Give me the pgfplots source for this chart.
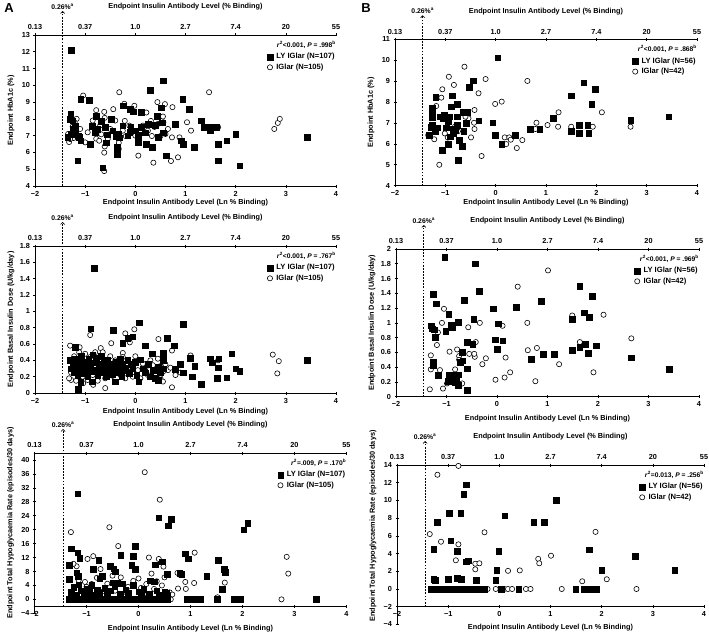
\documentclass[border=0pt]{standalone}
\usepackage{fontspec}
\setmainfont{Liberation Sans}
\usepackage{pgfplots}
\pgfplotsset{compat=1.18}
\usetikzlibrary{arrows.meta}

\newcommand{\tfont}{\fontsize{7.3}{8}\selectfont\bfseries}
\newcommand{\lfont}{\fontsize{7.3}{8}\selectfont\bfseries}

\pgfplotsset{
  base/.style={scale only axis, xmin=-2, xmax=4, clip=false,
    axis line style={black, line width=0.6pt},
    tick style={black, line width=0.6pt},
    tick align=outside, major tick length=3pt,
    ticklabel style={font=\tfont},
    xtick={-2,-1,0,1,2,3,4}},
  mainax/.style={base, axis x line=bottom, axis y line=left,
    axis line style={-},
    xticklabels={−2,−1,0,1,2,3,4},
    xlabel={Endpoint Insulin Antibody Level (Ln \% Binding)},
    legend style={at={(1,1)}, anchor=north east, yshift=-17pt, draw=none, fill=none,
      font=\fontsize{7.6}{8.4}\selectfont\bfseries, inner sep=0pt, row sep=1pt,
      nodes={inner sep=1.2pt}},
    legend cell align=left},
  topax/.style={base, axis x line=top, axis y line=none, axis line style={-},
    ymin=0, ymax=1,
    xticklabels={0.13,0.37,1.0,2.7,7.4,20,55},
    xlabel={Endpoint Insulin Antibody Level (\% Binding)},
    every axis x label/.style={at={(axis description cs:0.5,1)}, anchor=center, yshift=28pt, font=\lfont}},
  xlab/.style={every axis x label/.style={at={(axis description cs:0.5,0)}, anchor=center, yshift=#1, font=\lfont}},
  ylab/.style={every axis y label/.style={at={(axis description cs:0,#1)}, xshift=-24pt, rotate=90, anchor=center, font=\lfont}},
  ly/.style={only marks, mark=square*, mark size=2.8pt, mark options={fill=black, draw=black, line width=0.3pt}},
  ig/.style={only marks, mark=*, mark size=2.6pt, mark options={fill=white, draw=black, line width=0.6pt}},
  legend image code/.code={\draw[#1] plot coordinates {(0pt,0pt)}; \path (-3pt,0pt) (5pt,0pt);},
}
\tikzset{
  dashline/.style={black, line width=0.6pt, dash pattern=on 1.8pt off 1.3pt, -{Straight Barb[length=2pt, width=4pt]}},
  cutlab/.style={anchor=south, inner sep=1pt, font=\fontsize{6.8}{7}\selectfont\bfseries},
  rsq/.style={anchor=north east, yshift=-6pt, inner sep=0pt, font=\fontsize{6.7}{7}\selectfont\bfseries}
}

\begin{document}
\begin{tikzpicture}
\useasboundingbox (0,0) rectangle (709pt,-634pt);
\node[font=\fontsize{13}{13}\selectfont\bfseries] at (9pt,-8pt) {A};
\node[font=\fontsize{13}{13}\selectfont\bfseries] at (366pt,-8pt) {B};

% ---------------- A1: HbA1c ----------------
\begin{axis}[topax, at={(35pt,-186pt)}, anchor=south west, width=301pt, height=151pt]
\end{axis}
\begin{axis}[mainax, xlab=-17pt, ylab=0.5, at={(35pt,-186pt)}, anchor=south west, width=301pt, height=151pt,
  ymin=4, ymax=13, ytick={4,5,6,7,8,9,10,11,12,13}, yticklabels={4,5,6,7,8,9,10,11,12,13},
  ylabel={Endpoint HbA1c (\%)}]
\addlegendimage{ly}\addlegendentry{LY IGlar (N=107)}
\addlegendimage{ig}\addlegendentry{IGlar (N=105)}
\addplot[ig, forget plot] coordinates {(1.47,9.59) (-0.32,9.59) (-1.04,9.39) (0.44,9.00) (0.59,8.88) (0.22,8.38) (0.74,8.70) (-0.22,8.90) (-0.02,8.78) (-0.44,8.58) (-0.78,8.52) (-0.62,8.42) (-1.17,8.00) (-0.61,8.06) (0.55,8.14) (-0.21,7.88) (0.31,7.88) (-0.70,7.62) (1.03,7.80) (-0.12,7.60) (0.38,7.52) (0.56,7.80) (1.65,7.50) (1.11,7.30) (2.77,7.40) (2.84,7.76) (2.88,8.00) (-1.21,7.78) (-1.25,7.54) (-1.34,7.10) (-1.32,6.62) (-1.23,6.86) (-0.78,6.82) (-0.68,7.08) (-0.72,6.70) (-0.61,6.36) (-0.62,5.99) (-0.33,6.57) (-0.19,6.97) (0.33,6.98) (0.50,6.98) (0.73,6.90) (0.88,6.90) (0.06,5.81) (0.36,5.39) (0.71,5.49) (0.85,5.71) (-0.33,6.21) (-0.62,4.89) (-1.30,6.80) (-1.10,7.40) (-0.95,7.20) (-0.50,7.40) (-0.25,7.30) (0.15,7.60) (0.45,7.70) (0.60,7.10) (-0.85,7.90) (-0.40,7.90) (0.00,7.00) (-1.00,6.60) (0.25,7.30) (0.65,7.40) (-0.55,6.80)};
\addplot[ly, forget plot] coordinates {(-1.28,12.08) (0.55,10.29) (0.30,9.71) (-1.09,9.18) (-0.92,9.10) (0.94,9.18) (-0.24,8.78) (0.52,8.66) (1.07,8.58) (-0.10,8.58) (0.12,8.40) (-0.04,8.44) (-1.29,8.30) (-0.78,8.18) (0.43,8.18) (-0.48,7.98) (-1.31,7.98) (-1.25,7.90) (-0.68,7.88) (0.54,7.78) (0.79,7.70) (1.31,7.90) (-0.86,7.58) (-0.76,7.40) (-0.09,7.50) (0.12,7.50) (0.40,7.62) (1.37,7.50) (1.51,7.50) (1.61,7.50) (1.49,7.30) (-1.25,7.40) (-1.19,7.22) (-1.12,6.92) (-1.35,6.90) (-1.14,7.00) (-1.09,6.70) (-0.38,6.98) (-0.32,6.88) (-0.34,7.08) (-0.11,7.20) (0.06,7.04) (0.20,7.18) (0.06,6.60) (0.21,6.48) (0.34,6.30) (0.91,6.70) (0.95,6.48) (0.56,7.18) (2.00,7.10) (1.82,6.70) (1.65,6.48) (-0.90,6.48) (-0.58,6.58) (-0.56,7.06) (-0.36,6.30) (-0.36,5.90) (0.61,5.80) (1.17,6.30) (-1.15,5.51) (1.65,5.51) (-0.65,5.09) (2.08,5.21) (3.42,6.90) (-1.20,7.60) (-1.28,7.10) (-0.80,7.20) (-0.45,7.30) (0.00,7.30) (0.25,7.70) (-0.15,7.00) (0.45,6.90) (-0.60,7.50) (-0.25,7.60)};
\draw[dashline] (axis cs:-1.45,4) -- ([yshift=24pt]axis cs:-1.45,13) node[cutlab] {0.26\%\textsuperscript{a}};
\node[rsq] at (rel axis cs:1,1) {\textit{r}\textsuperscript{2}<0.001, \textit{P} = .998\textsuperscript{b}};
\end{axis}

% ---------------- B1: HbA1c ----------------
\begin{axis}[topax, at={(395pt,-185.7pt)}, anchor=south west, width=302pt, height=146.4pt]
\end{axis}
\begin{axis}[mainax, xlab=-17pt, ylab=0.5, at={(395pt,-185.7pt)}, anchor=south west, width=302pt, height=146.4pt,
  ymin=4, ymax=11, ytick={4,5,6,7,8,9,10,11}, yticklabels={4,5,6,7,8,9,10,11},
  ylabel={Endpoint HbA1c (\%)}]
\addlegendimage{ly}\addlegendentry{LY IGlar (N=56)}
\addlegendimage{ig}\addlegendentry{IGlar (N=42)}
\addplot[ig, forget plot] coordinates {(-0.62,9.69) (-0.93,9.21) (-0.20,9.10) (0.63,9.01) (-0.83,8.82) (-1.06,8.61) (-1.08,8.21) (-0.34,8.42) (0.12,8.02) (-0.01,7.91) (-1.18,7.81) (-0.42,7.62) (1.25,7.51) (2.11,7.51) (-0.54,7.22) (-0.43,7.01) (-0.42,6.71) (-0.86,6.71) (-1.01,6.50) (-1.34,6.42) (-1.22,6.22) (-0.49,6.31) (0.18,6.31) (0.27,6.31) (0.21,5.99) (0.42,5.80) (0.53,6.18) (-0.28,5.42) (-1.12,5.00) (0.81,7.01) (1.03,6.90) (1.24,6.82) (1.50,6.82) (1.93,6.82) (2.68,6.82) (0.79,6.71) (-0.81,6.82) (-0.75,6.60) (-0.95,6.30) (-1.25,6.80) (-0.60,7.30) (0.30,6.20)};
\addplot[ly, forget plot] coordinates {(0.04,10.12) (-0.45,9.02) (-0.53,8.70) (1.75,8.93) (1.98,8.61) (1.50,8.30) (1.91,7.91) (-0.87,8.30) (-1.19,8.22) (-1.26,7.70) (-1.26,7.51) (-1.26,7.27) (-1.26,6.90) (-0.76,7.91) (-0.89,7.78) (-0.66,7.51) (-0.56,7.51) (-0.34,7.11) (-1.02,7.38) (-0.93,7.30) (-0.76,7.30) (-1.05,7.22) (1.14,7.22) (-0.77,6.90) (-0.58,6.98) (-1.15,6.77) (-0.98,6.77) (-0.81,6.63) (-0.64,6.61) (-0.06,7.01) (-0.01,6.42) (0.12,5.99) (0.39,6.42) (0.69,6.71) (0.87,6.71) (-0.84,6.50) (-1.32,6.42) (-0.91,6.34) (-0.72,6.18) (-0.95,5.99) (-0.67,5.90) (-1.06,5.70) (-0.74,5.21) (1.50,6.61) (1.66,6.50) (1.83,6.90) (1.66,6.90) (1.85,6.50) (2.68,7.12) (3.44,7.30) (-1.28,6.80) (-1.20,6.60) (-1.10,7.30) (-0.95,7.10) (-0.85,6.70) (-0.60,7.00)};
\draw[dashline] (axis cs:-1.45,4) -- ([yshift=24pt]axis cs:-1.45,11) node[cutlab] {0.26\%\textsuperscript{a}};
\node[rsq] at (rel axis cs:1,1) {\textit{r}\textsuperscript{2}<0.001, \textit{P} = .868\textsuperscript{b}};
\end{axis}

% ---------------- A2: basal insulin dose ----------------
\begin{axis}[topax, at={(35pt,-393pt)}, anchor=south west, width=301pt, height=147pt]
\end{axis}
\begin{axis}[mainax, xlab=-18.7pt, ylab=0.5, at={(35pt,-393pt)}, anchor=south west, width=301pt, height=147pt,
  ymin=0, ymax=1.8, ytick={0,0.2,0.4,0.6,0.8,1,1.2,1.4,1.6,1.8}, yticklabels={0,0.2,0.4,0.6,0.8,1,1.2,1.4,1.6,1.8},
  ylabel={Endpoint Basal Insulin Dose (U/kg/day)}]
\addlegendimage{ly}\addlegendentry{LY IGlar (N=107)}
\addlegendimage{ig}\addlegendentry{IGlar (N=105)}
\addplot[ig, forget plot] coordinates {(-0.90,0.71) (-0.02,0.78) (-0.20,0.73) (-0.48,0.61) (-0.11,0.62) (0.46,0.66) (0.73,0.52) (1.10,0.46) (1.65,0.40) (2.74,0.47) (2.86,0.39) (2.83,0.24) (0.73,0.07) (-0.60,0.06) (-1.30,0.58) (-1.11,0.56) (-0.69,0.55) (-0.25,0.49) (-1.28,0.16) (-1.04,0.12) (-0.84,0.10) (-1.32,0.18) (-1.28,0.25) (-1.22,0.45) (-1.18,0.15) (-1.12,0.50) (-1.05,0.20) (-1.00,0.48) (-0.95,0.16) (-0.90,0.44) (-0.85,0.22) (-0.80,0.50) (-0.75,0.15) (-0.70,0.40) (-0.65,0.50) (-0.60,0.18) (-0.55,0.26) (-0.50,0.45) (-0.45,0.21) (-0.40,0.40) (-0.35,0.34) (-0.30,0.22) (-0.25,0.44) (-0.20,0.18) (-0.15,0.30) (-0.10,0.26) (-0.05,0.20) (0.00,0.45) (0.05,0.28) (0.10,0.18) (0.15,0.36) (0.20,0.30) (0.25,0.22) (0.30,0.40) (0.35,0.34) (0.40,0.24) (0.45,0.42) (0.50,0.18) (0.55,0.26) (0.60,0.35) (0.65,0.28) (0.70,0.31) (0.80,0.22) (0.90,0.25) (0.55,0.14) (0.50,0.33)};
\addplot[ly, forget plot] coordinates {(-0.82,1.53) (-0.89,0.79) (-0.44,0.77) (0.08,0.86) (0.95,0.84) (-0.05,0.69) (-0.15,0.67) (-0.25,0.61) (0.20,0.58) (0.63,0.67) (0.77,0.58) (-1.20,0.56) (0.33,0.48) (0.56,0.49) (0.56,0.40) (1.09,0.43) (1.18,0.33) (0.89,0.35) (0.95,0.25) (0.79,0.29) (1.13,0.20) (1.31,0.11) (1.49,0.42) (1.53,0.37) (1.66,0.42) (1.65,0.31) (1.63,0.18) (1.82,0.19) (1.92,0.48) (2.00,0.30) (2.08,0.27) (3.42,0.40) (-0.86,0.14) (-1.14,0.05) (-1.09,0.13) (-0.40,0.14) (0.07,0.14) (0.45,0.16) (-1.30,0.40) (-1.28,0.30) (-1.25,0.35) (-1.22,0.25) (-1.20,0.42) (-1.18,0.32) (-1.15,0.22) (-1.12,0.38) (-1.10,0.28) (-1.08,0.45) (-1.05,0.33) (-1.02,0.24) (-1.00,0.38) (-0.98,0.30) (-0.95,0.20) (-0.93,0.42) (-0.90,0.34) (-0.88,0.26) (-0.85,0.47) (-0.82,0.37) (-0.80,0.28) (-0.78,0.43) (-0.75,0.22) (-0.72,0.35) (-0.70,0.30) (-0.68,0.45) (-0.65,0.25) (-0.62,0.38) (-0.60,0.32) (-0.58,0.20) (-0.55,0.40) (-0.52,0.28) (-0.50,0.35) (-0.45,0.23) (-0.42,0.30) (-0.38,0.38) (-0.35,0.25) (-0.32,0.33) (-0.30,0.42) (-0.27,0.20) (-0.25,0.36) (-0.22,0.28) (-0.20,0.31) (-0.15,0.40) (-0.12,0.24) (-0.08,0.35) (-0.05,0.30) (0.00,0.38) (0.03,0.22) (0.10,0.41) (0.15,0.30) (0.20,0.25) (0.25,0.35) (0.30,0.20) (0.35,0.28) (0.40,0.18) (0.45,0.32) (0.50,0.25) (0.55,0.30)};
\draw[dashline] (axis cs:-1.45,0) -- ([yshift=24pt]axis cs:-1.45,1.8) node[cutlab] {0.26\%\textsuperscript{a}};
\node[rsq] at (rel axis cs:1,1) {\textit{r}\textsuperscript{2}<0.001, \textit{P} = .767\textsuperscript{b}};
\end{axis}

% ---------------- B2: basal insulin dose ----------------
\begin{axis}[topax, at={(396pt,-396.7pt)}, anchor=south west, width=303pt, height=147.7pt]
\end{axis}
\begin{axis}[mainax, xlab=-22pt, ylab=0.5, at={(396pt,-396.7pt)}, anchor=south west, width=303pt, height=147.7pt,
  ymin=0, ymax=2, ytick={0,0.2,0.4,0.6,0.8,1,1.2,1.4,1.6,1.8,2}, yticklabels={0,0.2,0.4,0.6,0.8,1,1.2,1.4,1.6,1.8,2},
  ylabel={Endpoint Basal Insulin Dose (U/kg/day)}]
\addlegendimage{ly}\addlegendentry{LY IGlar (N=56)}
\addlegendimage{ig}\addlegendentry{IGlar (N=42)}
\addplot[ig, forget plot] coordinates {(1.01,1.71) (0.41,1.49) (-1.05,1.19) (-1.09,1.00) (-0.57,0.94) (-0.34,1.00) (0.11,0.96) (0.60,1.00) (1.49,1.10) (2.11,1.11) (2.66,0.79) (1.64,0.74) (-1.17,0.87) (-1.19,0.70) (-0.42,0.74) (-0.94,0.61) (-0.79,0.64) (-0.75,0.55) (-0.55,0.58) (-0.44,0.54) (-0.75,0.50) (-1.31,0.56) (-0.29,0.44) (-0.22,0.52) (0.17,0.53) (0.61,0.63) (0.79,0.66) (1.23,0.44) (-1.31,0.37) (-1.13,0.36) (-0.83,0.37) (-0.03,0.23) (0.15,0.26) (0.26,0.33) (0.76,0.21) (1.91,0.33) (-1.33,0.10) (-1.07,0.11) (-0.99,0.18) (-0.69,0.18) (-0.45,0.58) (-0.88,0.28)};
\addplot[ly, forget plot] coordinates {(-1.04,1.89) (-0.43,1.80) (-1.26,1.39) (-0.35,1.43) (-1.20,1.26) (-0.65,1.31) (1.64,1.50) (1.89,1.36) (0.87,1.29) (0.38,1.21) (-0.08,1.19) (-0.96,1.12) (-1.30,0.96) (-1.25,0.91) (-1.22,0.81) (-1.02,0.89) (-0.91,0.97) (-0.89,0.94) (-0.77,1.01) (-0.46,1.05) (0.02,0.99) (1.73,1.14) (1.83,1.08) (1.49,1.05) (-0.59,0.74) (-0.69,0.60) (-0.48,0.71) (-0.04,0.77) (0.11,0.76) (0.00,0.64) (-0.59,0.38) (-0.73,0.47) (-0.68,0.49) (-1.27,0.47) (-1.26,0.42) (-1.16,0.29) (-0.95,0.30) (-0.85,0.30) (-0.77,0.30) (-0.81,0.24) (-0.97,0.21) (-0.77,0.16) (-0.59,0.09) (0.91,0.58) (0.68,0.51) (1.49,0.63) (1.64,0.67) (1.74,0.71) (1.96,0.69) (1.81,0.59) (1.13,0.58) (2.66,0.53) (3.41,0.37) (-0.80,0.28) (-1.28,0.92) (-0.83,0.20)};
\draw[dashline] (axis cs:-1.45,0) -- ([yshift=24pt]axis cs:-1.45,2) node[cutlab] {0.26\%\textsuperscript{a}};
\node[rsq] at (rel axis cs:1,1) {\textit{r}\textsuperscript{2}<0.001, \textit{P} = .969\textsuperscript{b}};
\end{axis}

% ---------------- A3: hypoglycaemia ----------------
\begin{axis}[topax, at={(34.5pt,-613.3pt)}, anchor=south west, width=312pt, height=160.3pt]
\end{axis}
\begin{axis}[mainax, xlab=-15pt, ylab=0.563, axis x line shift=-7pt, at={(34.5pt,-613.3pt)}, anchor=south west, width=312pt, height=160.3pt,
  ymin=-4, ymax=42, ytick={-4,0,4,8,12,16,20,24,28,32,36,40}, yticklabels={−4,0,4,8,12,16,20,24,28,32,36,40},
  ylabel={Endpoint Total Hypoglycaemia Rate (episodes/30 days)}]
\addlegendimage{ly}\addlegendentry{LY IGlar (N=107)}
\addlegendimage{ig}\addlegendentry{IGlar (N=105)}
\addplot[ig, forget plot] coordinates {(0.12,36.5) (0.41,28.6) (-1.30,19.3) (-0.56,20.7) (-0.39,15.3) (1.08,13.4) (0.20,12.0) (0.39,11.6) (0.48,9.4) (-0.98,11.6) (-0.87,12.4) (-1.19,9.5) (-0.73,8.7) (-0.34,6.3) (0.75,7.6) (0.80,7.0) (0.76,3.1) (0.91,3.0) (1.07,4.7) (1.66,4.8) (1.52,0.6) (2.85,12.2) (2.88,7.4) (2.75,0) (-1.03,5.0) (-1.00,3.6) (-1.25,10.2) (-1.15,5.5) (-0.90,4.4) (-0.80,6.2) (-0.60,4.5) (-0.50,6.8) (-0.45,2.5) (-0.20,3.6) (-0.10,5.3) (0.00,6.0) (0.05,3.3) (0.15,4.4) (0.25,7.4) (0.30,3.0) (0.35,5.2) (0.45,4.0) (0.50,6.3) (0.60,2.0) (0.65,1.4) (0.90,5.0) (-1.10,1.2) (-0.70,2.2) (-0.30,1.0) (0.10,1.5) (0.40,0.8) (-1.30,0) (-1.10,0) (-0.90,0) (-0.70,0) (-0.50,0) (-0.30,0) (-0.10,0) (0.15,0) (0.30,0) (0.62,0)};
\addplot[ly, forget plot] coordinates {(-1.17,30.3) (0.39,23.4) (0.63,23.0) (0.57,21.1) (2.02,20.0) (2.10,21.9) (-1.30,14.6) (-1.17,13.4) (-1.13,11.9) (-0.06,15.3) (-0.34,12.7) (-0.10,12.4) (-0.77,11.2) (0.90,13.1) (0.96,11.7) (-1.33,9.8) (-0.87,8.6) (-1.19,7.7) (-1.16,6.6) (-0.55,9.6) (-0.48,8.8) (-0.45,8.0) (-0.13,9.8) (-0.06,8.7) (0.32,10.0) (0.45,10.8) (0.55,7.2) (0.79,7.6) (0.83,7.2) (1.31,6.7) (1.53,11.2) (1.65,8.7) (1.67,7.8) (1.61,2.9) (-1.33,5.8) (-0.70,6.6) (-0.75,5.9) (-0.40,4.6) (-0.46,3.7) (-0.32,4.5) (0.22,5.4) (0.30,5.1) (0.54,1.7) (0.55,1.0) (-1.30,2.0) (-1.25,3.5) (-1.20,1.2) (-1.15,4.2) (-1.10,2.5) (-1.05,1.5) (-1.00,3.0) (-0.95,2.0) (-0.90,4.0) (-0.85,1.2) (-0.80,2.8) (-0.75,1.8) (-0.65,3.2) (-0.60,1.5) (-0.55,2.5) (-0.50,4.8) (-0.35,1.5) (-0.25,2.8) (-0.20,1.8) (-0.10,4.0) (0.00,2.2) (0.05,1.3) (0.10,3.0) (0.20,1.6) (0.35,2.5) (0.40,1.2) (0.50,2.0) (-1.33,0) (-1.26,0) (-1.19,0) (-1.12,0) (-1.05,0) (-0.98,0) (-0.91,0) (-0.84,0) (-0.77,0) (-0.70,0) (-0.63,0) (-0.56,0) (-0.49,0) (-0.42,0) (-0.35,0) (-0.28,0) (-0.21,0) (-0.14,0) (-0.07,0) (0.00,0) (0.07,0) (0.21,0) (0.28,0) (0.35,0) (0.42,0) (0.49,0) (0.56,0) (0.94,0) (1.06,0) (1.13,0) (1.19,0) (1.51,0) (1.83,0) (1.90,0) (1.96,0) (3.42,0)};
\draw[dashline] (axis cs:-1.45,-2) -- ([yshift=24pt]axis cs:-1.45,42) node[cutlab] {0.26\%\textsuperscript{a}};
\node[rsq] at (rel axis cs:1,1) {\textit{r}\textsuperscript{2}=.009, \textit{P} = .170\textsuperscript{b}};
\end{axis}

% ---------------- B3: hypoglycaemia ----------------
\begin{axis}[topax, at={(397pt,-624.4pt)}, anchor=south west, width=307pt, height=159.4pt]
\end{axis}
\begin{axis}[mainax, xlab=-3pt, ylab=0.617, axis x line shift=-17.7pt, at={(397pt,-624.4pt)}, anchor=south west, width=307pt, height=159.4pt,
  ymin=-4, ymax=14, ytick={-4,-2,0,2,4,6,8,10,12,14}, yticklabels={−4,−2,0,2,4,6,8,10,12,14},
  ylabel={Endpoint Total Hypoglycaemia Rate (episodes/30 days)}]
\addlegendimage{ly}\addlegendentry{LY IGlar (N=56)}
\addlegendimage{ig}\addlegendentry{IGlar (N=42)}
\addplot[ig, forget plot] coordinates {(-0.80,13.9) (-1.21,12.9) (-1.36,6.2) (-1.14,5.34) (-0.80,5.04) (-0.29,6.4) (-0.85,3.24) (-0.47,2.85) (-0.39,2.9) (-0.47,2.22) (0.17,2.05) (0.40,2.1) (0.76,3.4) (0.78,2.9) (1.01,3.76) (1.62,0.87) (2.10,1.1) (1.88,6.45) (2.68,0) (-0.65,0) (-0.23,0) (-0.07,0) (0.10,0) (0.17,0) (0.25,0) (0.52,0) (0.61,0) (1.22,0)};
\addplot[ly, forget plot] coordinates {(-0.65,11.8) (-0.70,10.7) (-0.98,8.54) (-0.76,8.54) (-1.21,7.52) (0.10,8.27) (0.67,7.52) (0.87,7.52) (1.11,10.0) (-0.95,5.45) (-1.28,4.48) (-0.83,4.29) (-0.65,3.08) (-0.61,3.2) (-0.01,4.29) (-0.05,2.1) (-1.28,1.1) (-1.25,1.0) (-1.00,1.1) (-0.83,1.2) (-0.75,1.1) (-0.45,1.0) (-0.07,1.0) (1.75,4.45) (2.00,2.1) (2.66,3.74) (3.43,2.11) (-1.33,0) (-1.28,0) (-1.23,0) (-1.18,0) (-1.13,0) (-1.08,0) (-1.03,0) (-0.98,0) (-0.93,0) (-0.88,0) (-0.83,0) (-0.78,0) (-0.73,0) (-0.60,0) (-0.55,0) (-0.50,0) (-0.45,0) (-0.40,0) (-0.35,0) (-0.30,0) (0.03,0) (0.38,0) (1.49,0) (1.65,0) (1.70,0) (1.75,0) (1.80,0) (1.85,0) (1.90,0)};
\draw[dashline] (axis cs:-1.45,-2) -- ([yshift=24pt]axis cs:-1.45,14) node[cutlab] {0.26\%\textsuperscript{a}};
\node[rsq] at (rel axis cs:1,1) {\textit{r}\textsuperscript{2}=0.013, \textit{P} = .256\textsuperscript{b}};
\end{axis}
\end{tikzpicture}
\end{document}
